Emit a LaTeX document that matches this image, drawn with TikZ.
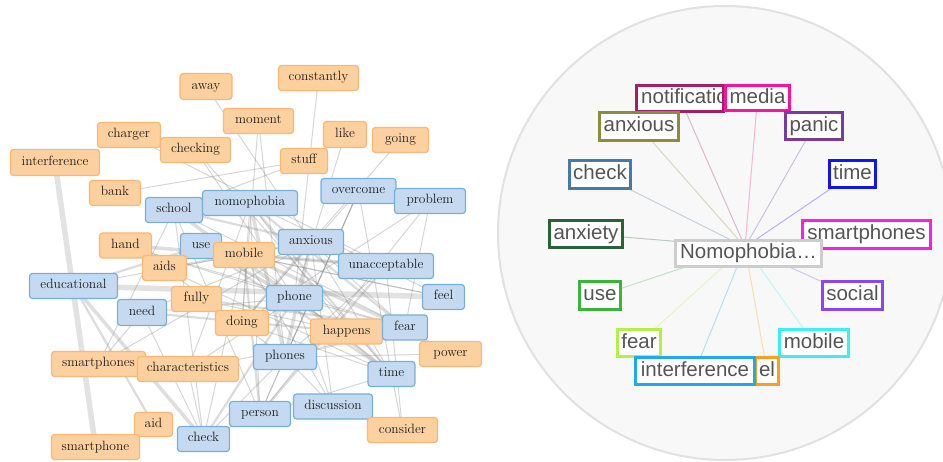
\documentclass[tikz,border=0pt]{standalone}
\usepackage{fontspec}
\newfontfamily\rsans{Liberation Sans}
\pgfdeclarelayer{bglayer}
\pgfdeclarelayer{edgelayer}
\pgfsetlayers{bglayer,edgelayer,main}
\definecolor{ofill}{RGB}{253,208,160}
\definecolor{oline}{RGB}{248,184,120}
\definecolor{bfill}{RGB}{197,218,240}
\definecolor{bline}{RGB}{120,175,215}
\definecolor{ltext}{RGB}{30,30,30}
\definecolor{rtextc}{RGB}{85,85,85}
\definecolor{egray}{RGB}{140,140,140}
\definecolor{cNotif}{RGB}{165,30,105}
\definecolor{cMedia}{RGB}{255,20,150}
\definecolor{cAnxious}{RGB}{140,140,60}
\definecolor{cPanic}{RGB}{120,60,160}
\definecolor{cCheck}{RGB}{70,120,170}
\definecolor{cTime}{RGB}{20,20,240}
\definecolor{cAnxiety}{RGB}{40,100,50}
\definecolor{cSmart}{RGB}{255,30,230}
\definecolor{cNomo}{RGB}{205,205,205}
\definecolor{cUse}{RGB}{60,180,60}
\definecolor{cSocial}{RGB}{140,70,240}
\definecolor{cFear}{RGB}{180,240,70}
\definecolor{cMobile}{RGB}{60,240,240}
\definecolor{cFeel}{RGB}{245,160,30}
\definecolor{cInter}{RGB}{30,170,240}
\definecolor{circfill}{RGB}{248,248,248}
\definecolor{circline}{RGB}{225,225,225}
\begin{document}
\begin{tikzpicture}[x=1pt,y=-1pt,
  lbox/.style={rectangle, rounded corners=3pt, line width=1.2pt, inner sep=0pt,
    font=\fontsize{13.5}{15}\selectfont, text=ltext, text height=9pt, text depth=3pt},
  ob/.style={lbox, fill=ofill, draw=oline},
  bb/.style={lbox, fill=bfill, draw=bline},
  eA/.style={draw=egray, line width=1pt, opacity=0.35, line cap=round},
  eB/.style={draw=egray, line width=2.2pt, opacity=0.3, line cap=round},
  eC/.style={draw=egray, line width=3.5pt, opacity=0.28, line cap=round},
  eD/.style={draw=egray, line width=5.5pt, opacity=0.25, line cap=round},
  rbox/.style={rectangle, line width=3pt, fill=white, inner sep=0pt,
    font=\rsans\fontsize{20.5}{22}\selectfont, text=rtextc, text height=15pt, text depth=4.5pt},
  spoke/.style={line width=1pt, opacity=0.3}
]
\useasboundingbox (0,0) rectangle (943,462);

% ---------------- right: radial view ----------------
\begin{pgfonlayer}{bglayer}
\fill[white] (0,0) rectangle (943,462);
\draw[circline, fill=circfill, line width=2pt] (725,233) circle[radius=227];
\end{pgfonlayer}

\coordinate (hub) at (745,247);

\node[rbox, draw=cNotif, minimum width=87pt, minimum height=26pt] (Rnotif) at (680,98.5) {};
\node[anchor=west, inner sep=0pt, font=\rsans\fontsize{20.5}{22}\selectfont, text=rtextc, text height=15pt, text depth=4.5pt] (Rnotiftxt) at (641,98.5) {notificatio};
\node[rbox, draw=cMedia, minimum width=64pt, minimum height=25pt] (Rmedia) at (757.5,98) {media};
\node[rbox, draw=cAnxious, minimum width=79pt, minimum height=28pt] (Ranxious) at (639,126.5) {anxious};
\node[rbox, draw=cPanic, minimum width=57pt, minimum height=27pt] (Rpanic) at (814,126) {panic};
\node[rbox, draw=cCheck, minimum width=61pt, minimum height=28pt] (Rcheck) at (600,174.5) {check};
\node[rbox, draw=cTime, minimum width=46pt, minimum height=27pt] (Rtime) at (852.5,174) {time};
\node[rbox, draw=cAnxiety, minimum width=73pt, minimum height=27pt] (Ranxiety) at (586,234) {anxiety};
\node[rbox, draw=cSmart, minimum width=128pt, minimum height=28pt] (Rsmart) at (866.5,234.5) {smartphones};
\node[rbox, draw=cNomo, minimum width=146pt, minimum height=26pt] (Rnomo) at (748.5,253.5) {Nomophobia…};
\node[rbox, draw=cUse, minimum width=41pt, minimum height=28pt] (Ruse) at (600,295.5) {use};
\node[rbox, draw=cSocial, minimum width=60pt, minimum height=28pt] (Rsocial) at (852.5,295.5) {social};
\node[rbox, draw=cFear, minimum width=43pt, minimum height=27pt] (Rfear) at (639,343) {fear};
\node[rbox, draw=cMobile, minimum width=69pt, minimum height=27pt] (Rmobile) at (814,343) {mobile};
\node[rbox, draw=cFeel, minimum width=23pt, minimum height=27pt] (Rfeel) at (767,371) {el};
\node[rbox, draw=cInter, minimum width=119pt, minimum height=27pt] (Rinter) at (695,371) {interference};

\begin{pgfonlayer}{edgelayer}
\foreach \n/\c in {Rnotif/cNotif, Rmedia/cMedia, Ranxious/cAnxious, Rpanic/cPanic,
  Rcheck/cCheck, Rtime/cTime, Ranxiety/cAnxiety, Rsmart/cSmart, Ruse/cUse,
  Rsocial/cSocial, Rfear/cFear, Rmobile/cMobile, Rfeel/cFeel, Rinter/cInter}
  \draw[spoke, draw=\c] (hub) -- (\n.center);
\end{pgfonlayer}

% ---------------- left: co-occurrence network ----------------
\node[ob, minimum width=52pt, minimum height=26pt] (Laway) at (206,86.5) {away};
\node[ob, minimum width=80pt, minimum height=25pt] (Lconstantly) at (318.5,78) {constantly};
\node[ob, minimum width=70pt, minimum height=25pt] (Lmoment) at (258.5,121) {moment};
\node[ob, minimum width=63pt, minimum height=25pt] (Lcharger) at (129,135) {charger};
\node[ob, minimum width=70pt, minimum height=25pt] (Lchecking) at (195.5,150) {checking};
\node[ob, minimum width=43pt, minimum height=26pt] (Llike) at (345,134.5) {like};
\node[ob, minimum width=56pt, minimum height=25pt] (Lgoing) at (400.5,140) {going};
\node[ob, minimum width=47pt, minimum height=25pt] (Lstuff) at (304,161) {stuff};
\node[ob, minimum width=89pt, minimum height=26pt] (Linterference) at (55,162.5) {interference};
\node[ob, minimum width=51pt, minimum height=25pt] (Lbank) at (115,193) {bank};
\node[bb, minimum width=57pt, minimum height=25pt] (Lschool) at (174,210) {school};
\node[bb, minimum width=95pt, minimum height=25pt] (Lnomophobia) at (250,203) {nomophobia};
\node[bb, minimum width=75pt, minimum height=25pt] (Lovercome) at (358.5,191) {overcome};
\node[bb, minimum width=71pt, minimum height=25pt] (Lproblem) at (430,201) {problem};
\node[ob, minimum width=52pt, minimum height=25pt] (Lhand) at (125.5,245.5) {hand};
\node[bb, minimum width=41pt, minimum height=25pt] (Luse) at (201,246) {use};
\node[ob, minimum width=44pt, minimum height=25pt] (Laids) at (164.5,268) {aids};
\node[ob, minimum width=61pt, minimum height=25pt] (Lmobile) at (244,255) {mobile};
\node[bb, minimum width=65pt, minimum height=25pt] (Lanxious) at (311,242) {anxious};
\node[bb, minimum width=95pt, minimum height=25pt] (Lunacceptable) at (386,266) {unacceptable};
\node[bb, minimum width=88pt, minimum height=25pt] (Leducational) at (73.5,286) {educational};
\node[bb, minimum width=49pt, minimum height=26pt] (Lneed) at (142,312.5) {need};
\node[ob, minimum width=50pt, minimum height=25pt] (Lfully) at (196.5,299) {fully};
\node[bb, minimum width=56pt, minimum height=25pt] (Lphone) at (294.5,298) {phone};
\node[bb, minimum width=42pt, minimum height=25pt] (Lfeel) at (443.5,297) {feel};
\node[ob, minimum width=53pt, minimum height=25pt] (Ldoing) at (242,323) {doing};
\node[ob, minimum width=72pt, minimum height=25pt] (Lhappens) at (346.5,331.5) {happens};
\node[bb, minimum width=45pt, minimum height=25pt] (Lfear) at (405,327.5) {fear};
\node[ob, minimum width=62pt, minimum height=25pt] (Lpower) at (450.5,354) {power};
\node[bb, minimum width=63pt, minimum height=25pt] (Lphones) at (285,357) {phones};
\node[ob, minimum width=94pt, minimum height=25pt] (Lsmartphones) at (98.5,364) {smartphones};
\node[ob, minimum width=101pt, minimum height=25pt] (Lcharacteristics) at (188,369) {characteristics};
\node[bb, minimum width=47pt, minimum height=25pt] (Ltime) at (391.5,374) {time};
\node[bb, minimum width=79pt, minimum height=25pt] (Ldiscussion) at (333,406.5) {discussion};
\node[bb, minimum width=61pt, minimum height=25pt] (Lperson) at (260,414) {person};
\node[ob, minimum width=38pt, minimum height=24pt] (Laid) at (153.5,424.5) {aid};
\node[ob, minimum width=88pt, minimum height=25pt] (Lsmartphone) at (95.5,447) {smartphone};
\node[bb, minimum width=52pt, minimum height=25pt] (Lcheck) at (203.5,439) {check};
\node[ob, minimum width=70pt, minimum height=25pt] (Lconsider) at (402.5,430) {consider};

\begin{pgfonlayer}{edgelayer}
\foreach \a/\b in {interference/smartphone, educational/feel}
  \draw[eD] (L\a.center) -- (L\b.center);
\foreach \a/\b in {educational/check, nomophobia/phones, anxious/phones, school/phone,
  mobile/fear, phone/time, hand/unacceptable}
  \draw[eC] (L\a.center) -- (L\b.center);
\foreach \a/\b in {use/time, aids/anxious, phones/fear, nomophobia/time, mobile/person,
  educational/use, educational/aid, person/unacceptable, check/phone, nomophobia/fear,
  school/anxious, doing/anxious, need/happens, fully/fear, use/phone}
  \draw[eB] (L\a.center) -- (L\b.center);
\foreach \a/\b in {away/anxious, constantly/phone, moment/phones, charger/unacceptable,
  checking/time, like/phone, going/anxious, stuff/bank, stuff/school, problem/person,
  problem/fear, overcome/time, overcome/phones, overcome/doing, unacceptable/consider,
  time/consider, power/phones, power/fear, discussion/anxious, discussion/phone,
  characteristics/nomophobia, characteristics/fear, smartphones/need, need/check,
  need/anxious, check/characteristics, check/person, check/phones, check/mobile,
  fully/happens, doing/nomophobia, doing/time, happens/nomophobia, school/check,
  school/person, nomophobia/person, use/feel, mobile/time, mobile/feel, hand/phone,
  aids/phones, anxious/fear, anxious/time, phone/fear, unacceptable/phones,
  school/smartphones, characteristics/phone, person/overcome, discussion/mobile,
  smartphones/anxious, hand/fear, aids/time, educational/anxious, checking/phone,
  moment/doing, overcome/person, problem/doing, feel/nomophobia, happens/use,
  phones/discussion, time/person, unacceptable/mobile, fear/school, need/phone}
  \draw[eA] (L\a.center) -- (L\b.center);
\end{pgfonlayer}
\end{tikzpicture}
\end{document}
